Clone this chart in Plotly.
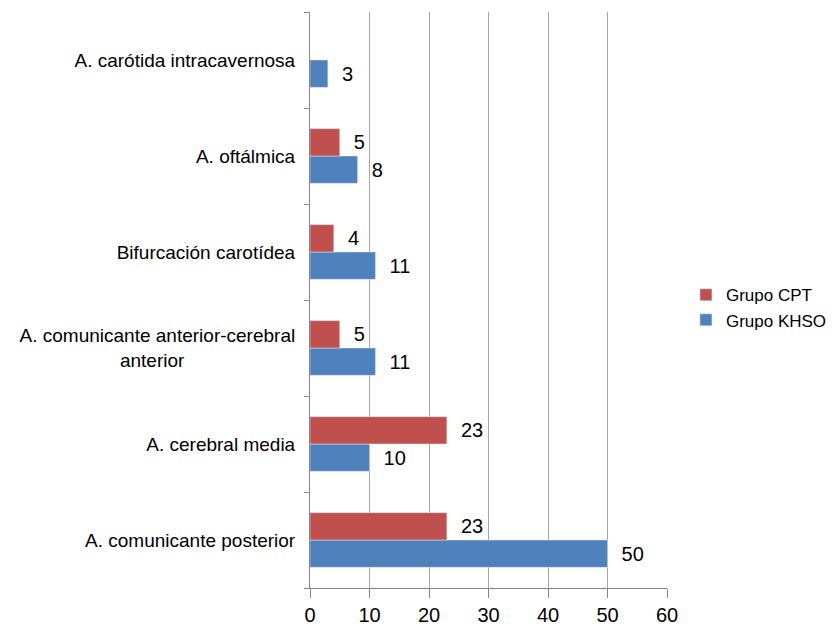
import plotly.graph_objects as go

categories = [
    "A. comunicante posterior",
    "A. cerebral media",
    "A. comunicante anterior-cerebral anterior",
    "Bifurcación carotídea",
    "A. oftálmica",
    "A. carótida intracavernosa",
]
tick_labels = [
    "A. comunicante posterior",
    "A. cerebral media",
    "A. comunicante anterior-cerebral<br>anterior" + "\u00a0" * 21,
    "Bifurcación carotídea",
    "A. oftálmica",
    "A. carótida intracavernosa",
]
grupo_khso = [50, 10, 11, 11, 8, 3]
grupo_cpt = [23, 23, 5, 4, 5, None]
x_ticks = [0, 10, 20, 30, 40, 50, 60]

FONT = "Liberation Sans, Arial, sans-serif"
PAD = "\u00a0\u00a0"

fig = go.Figure()
fig.add_trace(go.Bar(
    y=categories, x=grupo_khso, orientation="h", name="Grupo KHSO",
    marker=dict(color="#4F81BD"),
    text=[PAD + str(v) for v in grupo_khso],
    textposition="outside", cliponaxis=False,
    textfont=dict(size=20, color="#000000", family=FONT),
))
fig.add_trace(go.Bar(
    y=categories, x=grupo_cpt, orientation="h", name="Grupo CPT",
    marker=dict(color="#C0504D"),
    text=["" if v is None else PAD + str(v) for v in grupo_cpt],
    textposition="outside", cliponaxis=False,
    textfont=dict(size=20, color="#000000", family=FONT),
))

fig.update_layout(
    width=838, height=635,
    margin=dict(l=302, r=179, t=4, b=55),
    barmode="group", bargap=0.43, bargroupgap=0,
    plot_bgcolor="white", paper_bgcolor="white",
    font=dict(family=FONT, size=19, color="#000000"),
    showlegend=True,
    legend=dict(
        traceorder="reversed", xref="container", yref="container",
        x=0.809, y=0.528, xanchor="left", yanchor="middle",
        font=dict(size=17, family=FONT), itemwidth=30,
    ),
)
fig.update_xaxes(
    range=[0, 60], tickvals=x_ticks, ticktext=[str(t) for t in x_ticks],
    tickfont=dict(size=20),
    showgrid=True, gridcolor="#A6A6A6", gridwidth=1,
    showline=True, linecolor="#868686", linewidth=1,
    ticks="outside", ticklen=9, tickcolor="#868686",
    zeroline=False, automargin=False,
)
fig.update_yaxes(
    categoryorder="array", categoryarray=categories,
    tickvals=categories, ticktext=tick_labels,
    tickson="boundaries", ticks="outside", ticklen=5, tickcolor="#868686",
    showline=True, linecolor="#868686", linewidth=1,
    showgrid=False, ticklabelstandoff=10, automargin=False,
)

fig.write_html("out.html")
